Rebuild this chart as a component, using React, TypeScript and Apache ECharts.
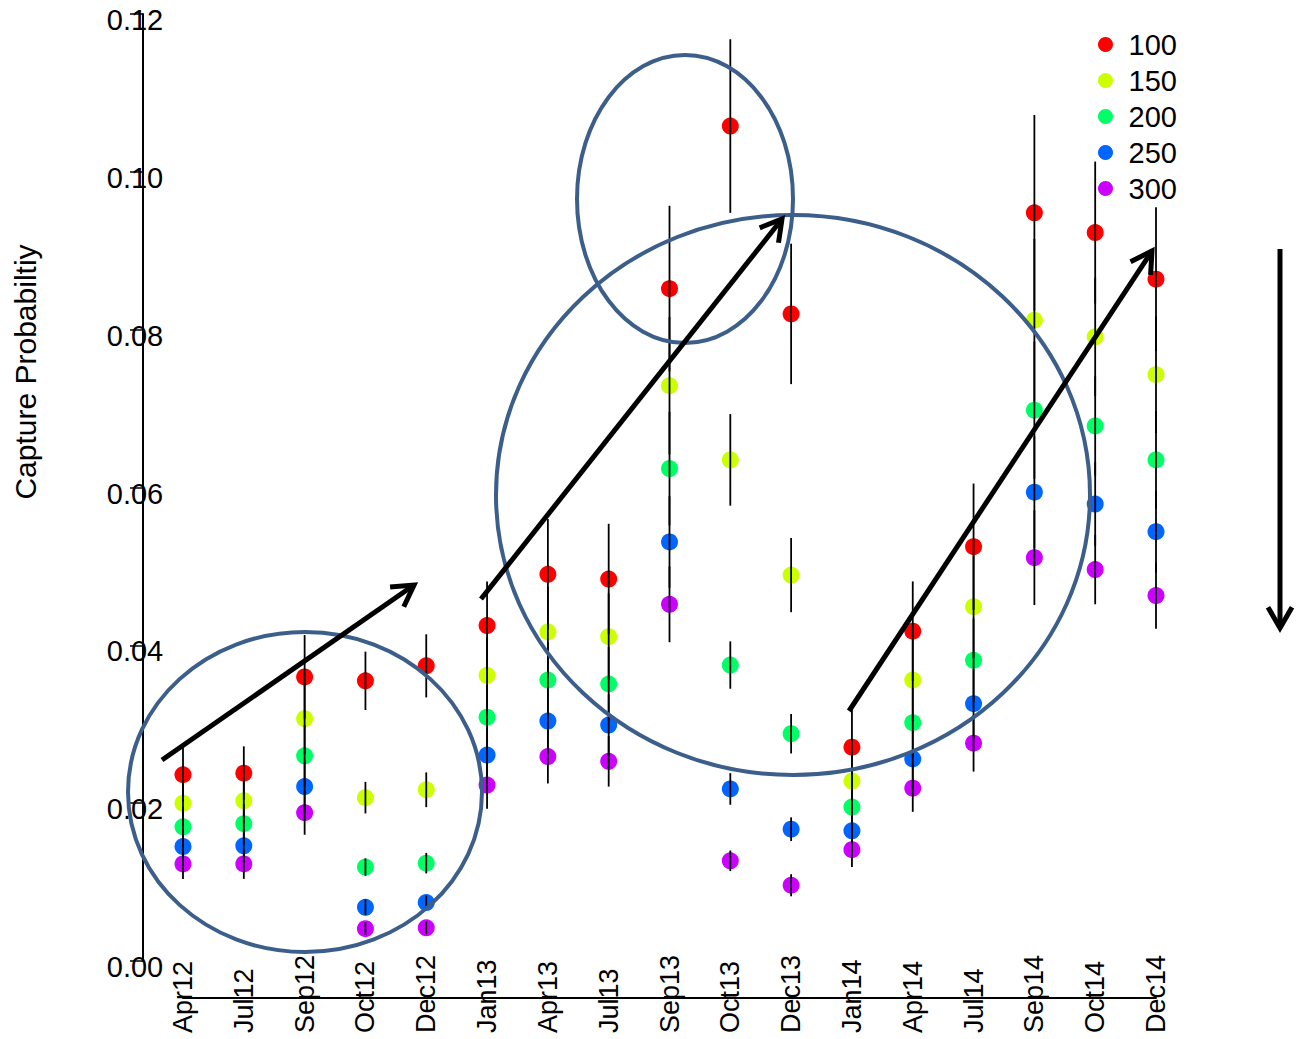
import React, { useEffect, useRef } from "react";
import * as echarts from "echarts";

const categories = ["Apr12","Jul12","Sep12","Oct12","Dec12","Jan13","Apr13","Jul13","Sep13","Oct13","Dec13","Jan14","Apr14","Jul14","Sep14","Oct14","Dec14"];

const seriesNames = ["100", "150", "200", "250", "300"];
const seriesColors = ["#FF0000", "#CCFF00", "#00FF66", "#0066FF", "#CC00FF"];

const values100 = [0.0236,0.0238,0.0360,0.0355,0.0374,0.0425,0.0490,0.0484,0.0852,0.1058,0.0820,0.0271,0.0418,0.0525,0.0948,0.0923,0.0864];
const values150 = [0.0200,0.0203,0.0307,0.0207,0.0217,0.0362,0.0417,0.0411,0.0729,0.0635,0.0489,0.0228,0.0356,0.0449,0.0812,0.0791,0.0743];
const values200 = [0.0170,0.0174,0.0260,0.0119,0.0124,0.0309,0.0356,0.0351,0.0624,0.0375,0.0288,0.0195,0.0302,0.0381,0.0698,0.0678,0.0635];
const values250 = [0.0145,0.0146,0.0221,0.0068,0.0074,0.0261,0.0304,0.0299,0.0531,0.0218,0.0167,0.0165,0.0256,0.0326,0.0594,0.0579,0.0544];
const values300 = [0.0123,0.0123,0.0188,0.0041,0.0042,0.0223,0.0259,0.0253,0.0452,0.0127,0.0096,0.0141,0.0219,0.0276,0.0511,0.0496,0.0463];

// half-widths of the error bars
const err100 = [0.0034,0.0034,0.0053,0.0037,0.0040,0.0056,0.0070,0.0070,0.0105,0.0110,0.0089,0.0048,0.0063,0.0080,0.0124,0.0090,0.0091];
const err150 = [0.0029,0.0029,0.0045,0.0020,0.0022,0.0048,0.0057,0.0055,0.0087,0.0058,0.0047,0.0038,0.0052,0.0065,0.0103,0.0075,0.0074];
const err200 = [0.0025,0.0025,0.0039,0.0011,0.0013,0.0041,0.0048,0.0047,0.0072,0.0030,0.0025,0.0031,0.0044,0.0053,0.0087,0.0063,0.0062];
const err250 = [0.0022,0.0022,0.0033,0.0010,0.0009,0.0035,0.0041,0.0039,0.0058,0.0020,0.0015,0.0026,0.0036,0.0044,0.0071,0.0053,0.0052];
const err300 = [0.0019,0.0019,0.0028,0.0008,0.0008,0.0030,0.0034,0.0032,0.0048,0.0013,0.0014,0.0022,0.0030,0.0036,0.0060,0.0044,0.0042];

const allValues = [values100, values150, values200, values250, values300];
const allErrors = [err100, err150, err200, err250, err300];

const yMin = 0;
const yMax = 0.12;
const yInterval = 0.02;
const yTitle = "Capture Probabiltiy";

const FONT = "'Liberation Sans', Arial, Helvetica, sans-serif";
const RING = "#3C5E8A";

function arrow(tail: number[], tip: number[], headLen = 24, deg = 30) {
  const dx = tip[0] - tail[0];
  const dy = tip[1] - tail[1];
  const len = Math.sqrt(dx * dx + dy * dy);
  const ux = dx / len, uy = dy / len;
  const a = (deg * Math.PI) / 180;
  const rot = (s: number) => {
    const bx = -ux, by = -uy;
    const c = Math.cos(s * a), sn = Math.sin(s * a);
    return [tip[0] + headLen * (bx * c - by * sn), tip[1] + headLen * (bx * sn + by * c)];
  };
  return [
    { type: "line", z: 100, shape: { x1: tail[0], y1: tail[1], x2: tip[0], y2: tip[1] }, style: { stroke: "#000", lineWidth: 5 } },
    { type: "polyline", z: 100, shape: { points: [rot(1), tip, rot(-1)] }, style: { stroke: "#000", lineWidth: 5, fill: "none", lineJoin: "miter" } },
  ];
}

export default function App() {
  const ref = useRef<HTMLDivElement>(null);
  useEffect(() => {
    if (!ref.current) return;
    const chart = echarts.init(ref.current, undefined, { renderer: "svg" });

    const errData: any[] = [];
    allValues.forEach((vals, si) => {
      vals.forEach((v, i) => {
        errData.push([i, v - allErrors[si][i], v + allErrors[si][i]]);
      });
    });

    const scatterSeries = seriesNames.map((name, si) => ({
      name,
      type: "scatter",
      symbol: "circle",
      symbolSize: 17,
      itemStyle: { color: seriesColors[si], opacity: 1 },
      data: allValues[si],
      z: 2,
    }));

    const option: any = {
      animation: false,
      backgroundColor: "#fff",
      textStyle: { fontFamily: FONT },
      grid: { left: 183, right: 141, top: 14, bottom: 78, containLabel: false },
      legend: {
        data: seriesNames,
        orient: "vertical",
        left: 1098,
        top: 30,
        padding: 0,
        itemGap: 7,
        itemWidth: 36,
        itemHeight: 15,
        icon: "circle",
        textStyle: { fontSize: 29, color: "#000", fontFamily: FONT },
      },
      xAxis: {
        type: "category",
        data: categories,
        boundaryGap: false,
        offset: 37,
        axisLine: { onZero: false, lineStyle: { color: "#000", width: 2 } },
        axisTick: { show: false },
        axisLabel: {
          interval: 0,
          rotate: 90,
          align: "left",
          verticalAlign: "middle",
          margin: 35,
          fontSize: 27,
          color: "#000",
          fontFamily: FONT,
        },
        splitLine: { show: false },
      },
      yAxis: {
        type: "value",
        min: yMin,
        max: yMax,
        interval: yInterval,
        offset: 40,
        axisLine: { show: true, onZero: false, lineStyle: { color: "#000", width: 2 } },
        axisTick: { show: true, length: 13, lineStyle: { color: "#000", width: 1.5 } },
        axisLabel: {
          align: "center",
          margin: 8,
          color: "#000",
          fontFamily: FONT,
          formatter: (v: number) => "{t|" + v.toFixed(2) + "}",
          rich: {
            t: { fontSize: 29, color: "#000", fontFamily: FONT, padding: [12, 0, 0, 0] },
          },
        },
        splitLine: { show: false },
      },
      series: [
        ...scatterSeries,
        {
          type: "custom",
          name: "errors",
          z: 3,
          silent: true,
          encode: { x: 0, y: [1, 2] },
          data: errData,
          renderItem: (params: any, api: any) => {
            const lo = api.coord([api.value(0), api.value(1)]);
            const hi = api.coord([api.value(0), api.value(2)]);
            return {
              type: "line",
              shape: { x1: lo[0], y1: lo[1], x2: hi[0], y2: hi[1] },
              style: { stroke: "#000", lineWidth: 1.8 },
            };
          },
        },
      ],
      graphic: [
        {
          type: "text",
          x: 25,
          y: 372,
          rotation: Math.PI / 2,
          style: { text: yTitle, fontSize: 30, fontFamily: FONT, fill: "#000", align: "center", verticalAlign: "middle" },
        },
        { type: "ellipse", z: 90, shape: { cx: 305, cy: 792, rx: 177, ry: 160 }, style: { fill: "none", stroke: RING, lineWidth: 4 } },
        { type: "ellipse", z: 90, shape: { cx: 685, cy: 199, rx: 108, ry: 144 }, style: { fill: "none", stroke: RING, lineWidth: 4 } },
        { type: "ellipse", z: 90, shape: { cx: 793, cy: 495, rx: 297, ry: 280 }, style: { fill: "none", stroke: RING, lineWidth: 4 } },
        ...arrow([162, 760], [414, 585]),
        ...arrow([481, 599], [782, 219]),
        ...arrow([849, 711], [1152, 251]),
        ...arrow([1280, 249], [1280, 628]),
      ],
    };

    chart.setOption(option);
    return () => chart.dispose();
  }, []);

  return (
    <div
      ref={ref}
      style={{ position: "absolute", left: 0, top: 0, width: 1297, height: 1039 }}
    />
  );
}
